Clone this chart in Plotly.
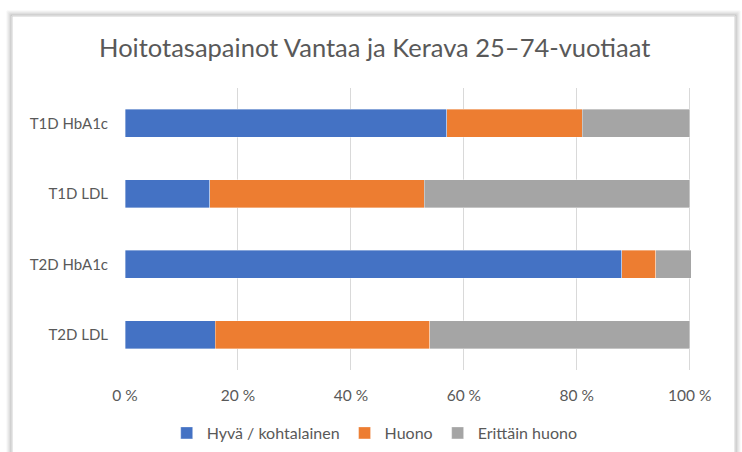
import plotly.graph_objects as go

categories = ["T1D HbA1c", "T1D LDL", "T2D HbA1c", "T2D LDL"]
series_names = ["Hyvä / kohtalainen", "Huono", "Erittäin huono"]
hyva = [57, 15, 88, 16]
huono = [24, 38, 6, 38]
erittain = [19, 47, 6.3, 46]
colors = ["#4472C4", "#ED7D31", "#A5A5A5"]
tick_vals = [0, 20, 40, 60, 80, 100]
tick_text = ["0 %", "20 %", "40 %", "60 %", "80 %", "100 %"]

W, H = 742, 452
ML, MR, MT, MB = 125, 50, 88, 82

fig = go.Figure()
for name, vals, c in zip(series_names, [hyva, huono, erittain], colors):
    fig.add_trace(go.Bar(
        y=categories, x=vals, name=name, orientation="h",
        marker=dict(color=c, line=dict(color="rgba(255,255,255,0.6)", width=0.6)),
        width=0.4,
    ))

def px_x(p):
    return (p - ML) / (W - ML - MR)

def px_y(p):
    return (H - MB - p) / (H - MT - MB)

shapes = []
# soft shadow layers around the chart frame
for off, col in [(5, "rgba(0,0,0,0.04)"), (4, "rgba(0,0,0,0.07)"), (3, "rgba(0,0,0,0.11)"), (2, "rgba(0,0,0,0.16)"), (1, "rgba(0,0,0,0.22)")]:
    shapes.append(dict(type="rect", xref="paper", yref="paper",
                       x0=px_x(12 - off), x1=px_x(735 + off),
                       y0=px_y(470), y1=px_y(16 - off),
                       line=dict(color=col, width=1), fillcolor="rgba(0,0,0,0)", layer="below"))
shapes.append(dict(type="rect", xref="paper", yref="paper",
                   x0=px_x(12), x1=px_x(735), y0=px_y(470), y1=px_y(16),
                   line=dict(color="#D0D0D0", width=1), fillcolor="white", layer="below"))

fig.update_layout(
    width=W, height=H,
    margin=dict(l=ML, r=MR, t=MT, b=MB, autoexpand=False),
    barmode="stack",
    paper_bgcolor="white", plot_bgcolor="rgba(0,0,0,0)",
    font=dict(family="Lato, Carlito, sans-serif", color="#595959", size=15),
    title=dict(text="Hoitotasapainot Vantaa ja Kerava 25–74-vuotiaat",
               x=0.505, xref="container", xanchor="center",
               y=1 - 48 / H, yref="container", yanchor="middle",
               font=dict(size=25.5, color="#595959", family="Lato, Carlito, sans-serif")),
    xaxis=dict(range=[0, 100.4], tickvals=tick_vals, ticktext=tick_text,
               showgrid=True, gridcolor="#D9D9D9", gridwidth=1, zeroline=False,
               showline=False, ticks="", ticklabelstandoff=14, automargin=False,
               tickfont=dict(size=15.5, color="#595959")),
    yaxis=dict(categoryorder="array", categoryarray=categories, autorange="reversed",
               showgrid=False, zeroline=False, showline=False, ticks="",
               ticklabelstandoff=16, automargin=False,
               tickfont=dict(size=15, color="#595959")),
    legend=dict(orientation="h", x=0.505, xref="container", xanchor="center",
                y=1 - 433 / H, yref="container", yanchor="middle",
                font=dict(size=16, color="#595959"), traceorder="normal",
                itemwidth=30, bgcolor="rgba(0,0,0,0)"),
    shapes=shapes,
    bargap=0.6,
)

fig.write_html("out.html", config={"displayModeBar": False},
               post_script="document.body.style.margin='0';document.body.style.overflow='hidden';")
